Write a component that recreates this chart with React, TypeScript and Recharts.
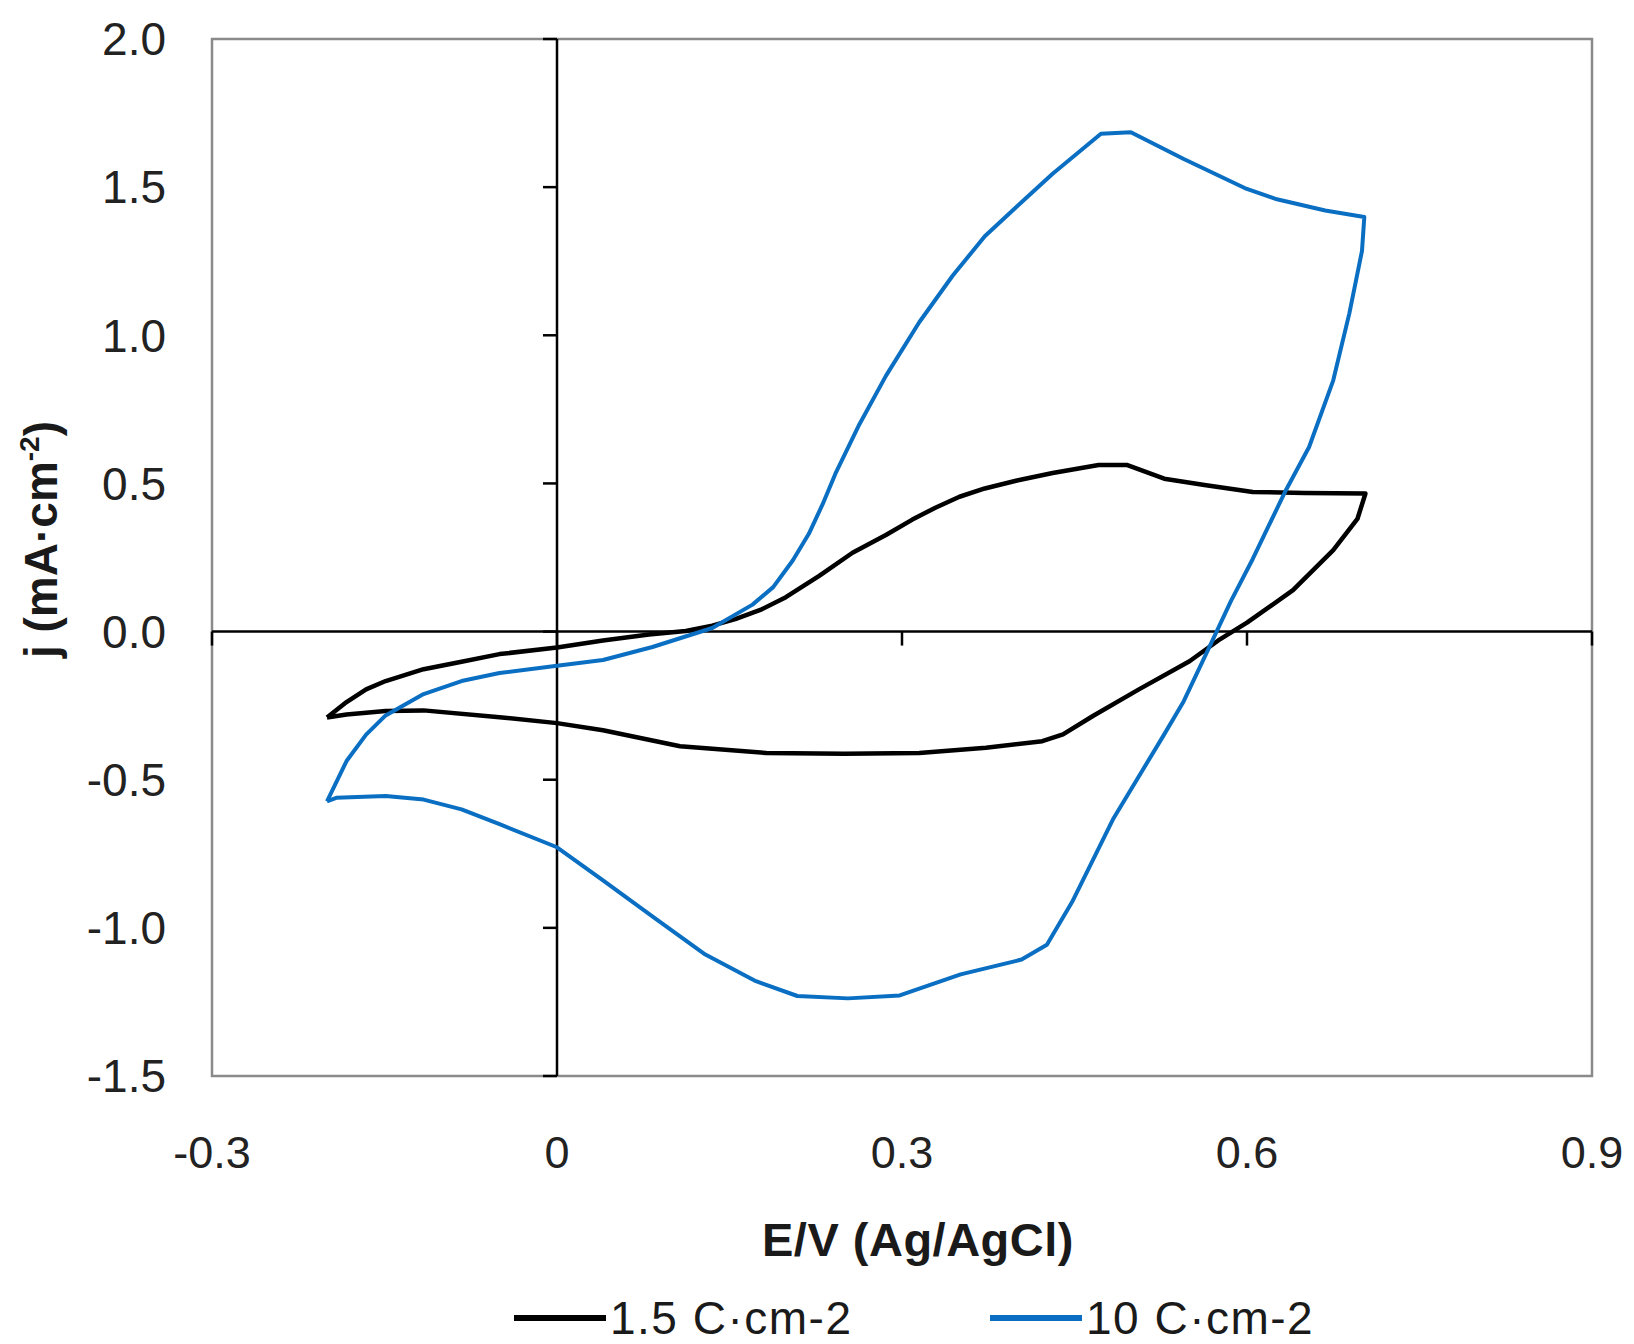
import React from 'react';
import { LineChart, Line, XAxis, YAxis, ReferenceLine, ReferenceArea, Legend } from 'recharts';

const FONT = '"Liberation Sans", Arial, Helvetica, sans-serif';

const xDomain: [number, number] = [-0.3, 0.9];
const yDomain: [number, number] = [-1.5, 2.0];
const xTicks = [-0.3, 0, 0.3, 0.6, 0.9];
const yTicks = [-1.5, -1.0, -0.5, 0.0, 0.5, 1.0, 1.5, 2.0];

const seriesNames = ['1.5 C\u00B7cm-2', '10 C\u00B7cm-2'];
const seriesColors = ['#000000', '#0a6fc2'];

// 1.5 C·cm-2 : anodic sweep (-0.2 -> 0.7 V) then cathodic sweep back
const lowE = [
  -0.2, -0.183, -0.166, -0.149, -0.116, -0.083, -0.05, 0.0, 0.04, 0.08, 0.112, 0.135, 0.155, 0.178, 0.199, 0.228,
  0.257, 0.286, 0.309, 0.329, 0.35, 0.372, 0.4, 0.431, 0.471, 0.496, 0.528, 0.563, 0.605, 0.65, 0.703,
  0.696, 0.675, 0.64, 0.6, 0.575, 0.55, 0.506, 0.466, 0.44, 0.422, 0.373, 0.315, 0.25, 0.182, 0.107,
  0.04, 0.0, -0.05, -0.116, -0.149, -0.183, -0.2,
];
const lowJ = [
  -0.29, -0.238, -0.195, -0.167, -0.127, -0.102, -0.076, -0.054, -0.03, -0.01, 0.002, 0.02, 0.042, 0.075, 0.116, 0.188,
  0.266, 0.326, 0.378, 0.418, 0.455, 0.483, 0.51, 0.535, 0.562, 0.562, 0.516, 0.495, 0.471, 0.468, 0.466,
  0.38, 0.275, 0.14, 0.03, -0.03, -0.1, -0.195, -0.285, -0.347, -0.37, -0.392, -0.41, -0.412, -0.41, -0.387,
  -0.333, -0.309, -0.289, -0.266, -0.268, -0.28, -0.29,
];

// 10 C·cm-2
const highE = [
  -0.2, -0.183, -0.166, -0.149, -0.116, -0.083, -0.05, 0.0, 0.04, 0.083, 0.135, 0.17, 0.188, 0.205, 0.219,
  0.231, 0.242, 0.263, 0.286, 0.315, 0.344, 0.372, 0.402, 0.431, 0.473, 0.499, 0.545, 0.598, 0.626,
  0.668, 0.702,
  0.7, 0.689, 0.675, 0.654, 0.633, 0.605, 0.586, 0.57, 0.545, 0.528, 0.484, 0.448, 0.426, 0.404,
  0.351, 0.298, 0.253, 0.209, 0.173, 0.129, 0.085, 0.04, 0.0, -0.05, -0.083, -0.116, -0.149, -0.192, -0.2,
];
const highJ = [
  -0.573, -0.437, -0.348, -0.283, -0.211, -0.167, -0.14, -0.115, -0.096, -0.052, 0.012, 0.091, 0.15, 0.24, 0.33,
  0.43, 0.532, 0.7, 0.863, 1.044, 1.201, 1.334, 1.442, 1.545, 1.68, 1.685, 1.595, 1.497, 1.459,
  1.421, 1.399,
  1.285, 1.074, 0.848, 0.623, 0.471, 0.245, 0.103, -0.03, -0.235, -0.347, -0.63, -0.912, -1.057, -1.107,
  -1.157, -1.228, -1.238, -1.23, -1.18, -1.09, -0.967, -0.84, -0.728, -0.65, -0.6, -0.567, -0.555, -0.561, -0.573,
];

const lowData = lowE.map((e, i) => ({ e, j: lowJ[i] }));
const highData = highE.map((e, i) => ({ e, j: highJ[i] }));

const TICK_LEN = 14;

const HorizontalZeroAxis = (props: any) => {
  const { x1, x2, y1 } = props;
  const left = Math.min(x1, x2);
  const right = Math.max(x1, x2);
  return (
    <g>
      <line x1={left} x2={right} y1={y1} y2={y1} stroke="#000" strokeWidth={2.5} />
      {xTicks.map((t, i) => {
        const x = left + ((right - left) * (t - xDomain[0])) / (xDomain[1] - xDomain[0]);
        return <line key={i} x1={x} x2={x} y1={y1} y2={y1 + TICK_LEN} stroke="#000" strokeWidth={2.5} />;
      })}
    </g>
  );
};

const VerticalZeroAxis = (props: any) => {
  const { x1, y1, y2 } = props;
  const top = Math.min(y1, y2);
  const bottom = Math.max(y1, y2);
  return (
    <g>
      <line x1={x1} x2={x1} y1={top} y2={bottom} stroke="#000" strokeWidth={2.5} />
      {yTicks.map((t, i) => {
        const y = bottom - ((bottom - top) * (t - yDomain[0])) / (yDomain[1] - yDomain[0]);
        return <line key={i} x1={x1 - TICK_LEN} x2={x1} y1={y} y2={y} stroke="#000" strokeWidth={2.5} />;
      })}
    </g>
  );
};

const XTitle = (props: any) => {
  const vb = props.viewBox || { x: 212, y: 1076, width: 1380, height: 268 };
  return (
    <text
      x={vb.x + vb.width / 2 + 16}
      y={vb.y + 180}
      textAnchor="middle"
      fontFamily={FONT}
      fontWeight="bold"
      fontSize={47}
      letterSpacing={0.5}
      fill="#1a1a1a"
    >
      E/V (Ag/AgCl)
    </text>
  );
};

const YTitle = (props: any) => {
  const vb = props.viewBox || { x: 0, y: 39, width: 212, height: 1037 };
  const cx = vb.x + 57;
  const cy = vb.y + vb.height / 2 - 18;
  return (
    <text
      x={cx}
      y={cy}
      transform={`rotate(-90, ${cx}, ${cy})`}
      textAnchor="middle"
      fontFamily={FONT}
      fontWeight="bold"
      fontSize={46}
      fill="#1a1a1a"
    >
      j (mA{'\u00B7'}cm
      <tspan fontSize={28} dy={-18}>-2</tspan>
      <tspan dy={18}>)</tspan>
    </text>
  );
};

const LegendContent = (props: any) => {
  const payload = props.payload || [];
  return (
    <div style={{ position: 'relative', width: '100%', height: '100%' }}>
      {payload.map((item: any, i: number) => (
        <div
          key={i}
          style={{
            position: 'absolute',
            left: i === 0 ? 514 : 990,
            top: 0,
            height: 56,
            display: 'flex',
            alignItems: 'center',
            whiteSpace: 'nowrap',
          }}
        >
          <svg width={92} height={10} style={{ display: 'block' }}>
            <line x1={0} x2={92} y1={5} y2={5} stroke={item.color} strokeWidth={6} />
          </svg>
          <span
            style={{
              marginLeft: 4,
              fontFamily: FONT,
              fontSize: 46,
              letterSpacing: 1.5,
              color: '#1a1a1a',
              lineHeight: '56px',
            }}
          >
            {item.value}
          </span>
        </div>
      ))}
    </div>
  );
};

export default function App() {
  return (
    <div style={{ position: 'absolute', left: 0, top: 0, width: 1634, height: 1344, background: '#fff' }}>
      <LineChart
        width={1634}
        height={1344}
        margin={{ top: 39, right: 42, left: 0, bottom: 0 }}
        style={{ background: '#fff' }}
      >
        <XAxis
          type="number"
          dataKey="e"
          domain={xDomain}
          ticks={xTicks}
          interval={0}
          allowDataOverflow
          axisLine={false}
          tickLine={false}
          tickSize={0}
          tickMargin={60}
          height={268}
          tick={{ fontSize: 45, fill: '#222', fontFamily: FONT }}
          label={{ content: (p: any) => <XTitle {...p} /> }}
        />
        <YAxis
          type="number"
          dataKey="j"
          domain={yDomain}
          ticks={yTicks}
          interval={0}
          allowDataOverflow
          axisLine={false}
          tickLine={false}
          tickSize={0}
          tickMargin={46}
          width={212}
          tickFormatter={(v: number) => v.toFixed(1)}
          tick={{ fontSize: 46, fill: '#222', fontFamily: FONT }}
          label={{ content: (p: any) => <YTitle {...p} /> }}
        />
        <ReferenceArea
          x1={xDomain[0]}
          x2={xDomain[1]}
          y1={yDomain[0]}
          y2={yDomain[1]}
          fill="none"
          fillOpacity={0}
          stroke="#8a8a8a"
          strokeWidth={2.5}
        />
        <ReferenceLine y={0} shape={(p: any) => <HorizontalZeroAxis {...p} />} />
        <ReferenceLine x={0} shape={(p: any) => <VerticalZeroAxis {...p} />} />
        <Line
          data={lowData}
          dataKey="j"
          name={seriesNames[0]}
          stroke={seriesColors[0]}
          strokeWidth={4.5}
          strokeLinejoin="round"
          type="linear"
          dot={false}
          activeDot={false}
          isAnimationActive={false}
        />
        <Line
          data={highData}
          dataKey="j"
          name={seriesNames[1]}
          stroke={seriesColors[1]}
          strokeWidth={4}
          strokeLinejoin="round"
          type="linear"
          dot={false}
          activeDot={false}
          isAnimationActive={false}
        />
        <Legend
          layout="horizontal"
          verticalAlign="middle"
          align="center"
          wrapperStyle={{ position: 'absolute', left: 0, top: 1290, width: 1634, height: 56 }}
          content={(p: any) => <LegendContent {...p} />}
        />
      </LineChart>
    </div>
  );
}
